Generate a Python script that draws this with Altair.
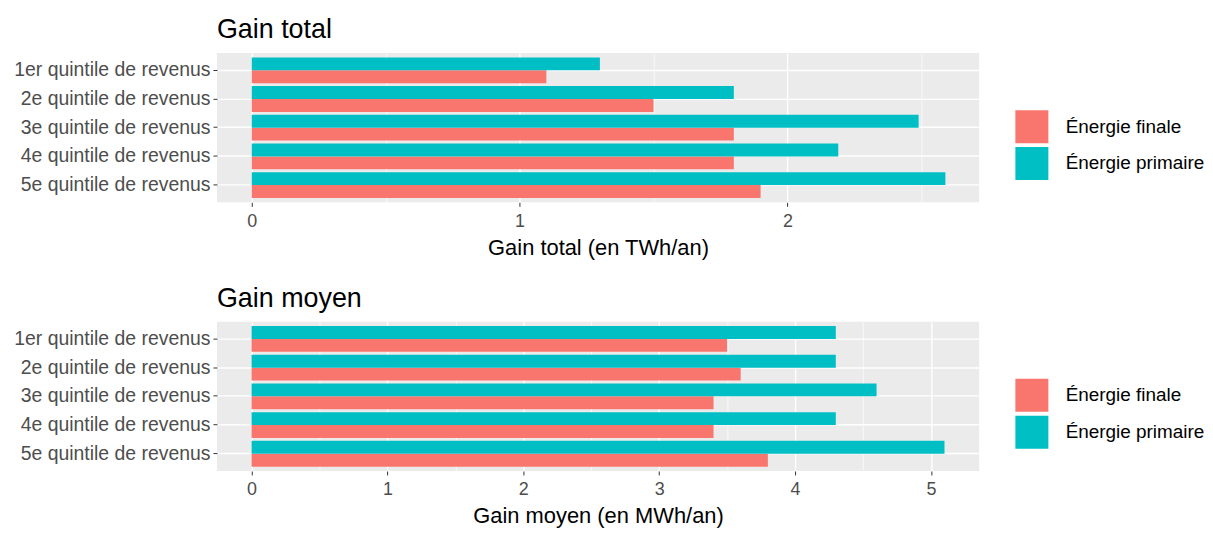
import altair as alt
import pandas as pd

categories = ["1er quintile de revenus", "2e quintile de revenus", "3e quintile de revenus",
              "4e quintile de revenus", "5e quintile de revenus"]
series = ["Énergie finale", "Énergie primaire"]
colors = ["#F8766D", "#00BFC4"]

total_finale = [1.1, 1.5, 1.8, 1.8, 1.9]
total_primaire = [1.3, 1.8, 2.49, 2.19, 2.59]
moyen_finale = [3.5, 3.6, 3.4, 3.4, 3.8]
moyen_primaire = [4.3, 4.3, 4.6, 4.3, 5.1]

total_ticks = [0, 0.5, 1, 1.5, 2, 2.5]
moyen_ticks = [0, 0.5, 1, 1.5, 2, 2.5, 3, 3.5, 4, 4.5, 5]

FONT = "Liberation Sans"


def make_df(finale, primaire):
    rows = []
    for c, f, p in zip(categories, finale, primaire):
        rows.append({"cat": c, "serie": series[0], "val": f})
        rows.append({"cat": c, "serie": series[1], "val": p})
    return pd.DataFrame(rows)


def panel(df, title, xtitle, ticks, domain):
    return alt.Chart(df, title=alt.TitleParams(title, anchor="start", frame="group", fontSize=27,
                                               font=FONT, fontWeight="normal",
                                               color="black", offset=9)).mark_bar().encode(
        y=alt.Y("cat:N", sort=categories, title=None,
                scale=alt.Scale(paddingInner=0.1, paddingOuter=0.15),
                axis=alt.Axis(labelFontSize=19.5, labelColor="#4D4D4D", labelFont=FONT,
                              labelLimit=0,
                              domain=False, tickColor="#333333", tickSize=4,
                              labelPadding=3, grid=True, gridColor="white",
                              gridWidth=1.4, bandPosition=0.5,
                              minExtent=203, maxExtent=203)),
        yOffset=alt.YOffset("serie:N", sort=["Énergie primaire", "Énergie finale"],
                            scale=alt.Scale(paddingInner=0, paddingOuter=0)),
        x=alt.X("val:Q", title=xtitle,
                scale=alt.Scale(domain=domain, nice=False, zero=False),
                axis=alt.Axis(values=ticks, format="~g",
                              labelExpr="datum.value % 1 === 0 ? datum.label : ''",
                              labelFontSize=18, labelColor="#4D4D4D", labelFont=FONT,
                              labelPadding=6,
                              domain=False, tickColor="#333333", tickSize=4,
                              tickOpacity={"condition": {"test": "datum.value % 1 !== 0", "value": 0}, "value": 1},
                              grid=True, gridColor="white",
                              gridWidth={"condition": {"test": "datum.value % 1 !== 0", "value": 0.7}, "value": 1.4},
                              titleFontSize=22, titleFont=FONT, titleFontWeight="normal",
                              titleColor="black", titlePadding=7)),
        color=alt.Color("serie:N", sort=series,
                        scale=alt.Scale(domain=series, range=colors),
                        legend=alt.Legend(title=None, orient="none", legendX=802, legendY=57,
                                          padding=0,
                                          symbolType="square", symbolSize=1100,
                                          symbolStrokeWidth=0, labelFontSize=19,
                                          labelFont=FONT, labelColor="black",
                                          labelOffset=17, rowPadding=3)),
    ).properties(width=766, height=150)


top = panel(make_df(total_finale, total_primaire), "Gain total", "Gain total (en TWh/an)",
            total_ticks, [-0.13, 2.716])
bottom = panel(make_df(moyen_finale, moyen_primaire), "Gain moyen", "Gain moyen (en MWh/an)",
               moyen_ticks, [-0.255, 5.355])

chart = alt.vconcat(top, bottom, spacing=27).resolve_scale(color="independent").properties(
    padding={"left": 5, "top": 7, "right": 0, "bottom": 0}
).configure_view(fill="#EBEBEB", stroke=None)

chart.save("out.html", embed_options={"renderer": "svg", "actions": False})
